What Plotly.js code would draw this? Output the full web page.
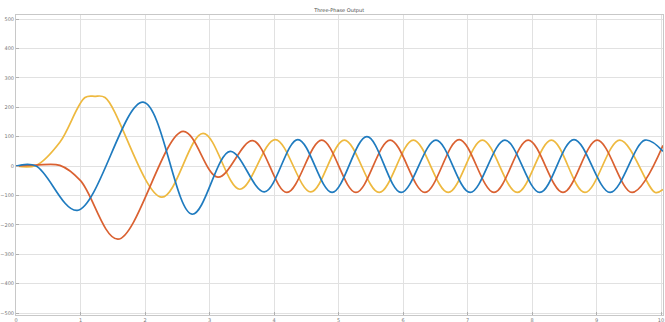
<!DOCTYPE html>
<html>
<head>
<meta charset="utf-8">
<script src="https://cdn.plot.ly/plotly-3.0.1.min.js"></script>
<style>html,body{margin:0;padding:0;background:#fff;}#chart{width:665px;height:322px;}</style>
</head>
<body>
<div id="chart"></div>
<script>
// Series (x in grid units, y in axis units)
const blueX = [0, 0.31, 0.95, 1.97, 2.73, 3.32, 3.85, 4.37, 4.90, 5.44, 5.97, 6.51, 7.04, 7.58, 8.12, 8.65, 9.21, 9.75, 10.03];
const blueY = [0, 0, -151, 217, -164, 50, -88, 90, -90, 100, -90, 88, -90, 88, -90, 90, -90, 88, 50];

const redX = [0, 0.31, 0.68, 1.0, 1.58, 2.59, 3.13, 3.67, 4.20, 4.74, 5.27, 5.80, 6.34, 6.87, 7.41, 7.94, 8.48, 9.01, 9.55, 10.03];
const redY = [0, 3, 2, -50, -249, 118, -38, 86, -90, 88, -90, 88, -90, 90, -90, 88, -90, 88, -90, 70];

const yellowX = [0, 0.31, 0.68, 1.07, 1.22, 1.38, 2.26, 2.90, 3.47, 4.02, 4.57, 5.09, 5.63, 6.16, 6.70, 7.23, 7.77, 8.30, 8.82, 9.36, 9.91, 10.03];
const yellowY = [0, 2, 81, 233, 237, 233, -106, 111, -79, 90, -88, 88, -90, 88, -90, 88, -90, 88, -90, 88, -90, -80];

const titleText = 'Three-Phase Output';
const yTicks = [-500, -400, -300, -200, -100, 0, 100, 200, 300, 400, 500];
const xTicks = [0, 1, 2, 3, 4, 5, 6, 7, 8, 9, 10];

const mk = (x, y, color) => ({
  x: x, y: y, type: 'scatter', mode: 'lines',
  line: {color: color, width: 1.7, shape: 'spline', smoothing: 1},
  hoverinfo: 'skip', showlegend: false
});

const data = [
  mk(yellowX, yellowY, '#EEB93F'),
  mk(redX, redY, '#DA6131'),
  mk(blueX, blueY, '#1F7BBF')
];

const axisCommon = {
  showgrid: true, gridcolor: '#e1e1e1', gridwidth: 1,
  zeroline: false, showline: true, mirror: true,
  linecolor: '#c8c8c8', linewidth: 1,
  ticks: 'inside', ticklen: 3, tickcolor: '#b0b0b0',
  tickfont: {family: 'DejaVu Sans', size: 5, color: '#777'}
};

const layout = {
  width: 665, height: 322,
  margin: {l: 16, r: 2, t: 15, b: 7},
  paper_bgcolor: '#fff', plot_bgcolor: '#fff',
  title: {text: titleText, font: {family: 'DejaVu Sans', size: 5, color: '#444'}, x: 0.51, xanchor: 'center', y: 0.968, yanchor: 'middle'},
  xaxis: Object.assign({}, axisCommon, {range: [0, 10.03], tickvals: xTicks}),
  yaxis: Object.assign({}, axisCommon, {range: [-506.8, 513.6], tickvals: yTicks})
};

Plotly.newPlot('chart', data, layout, {staticPlot: true, displayModeBar: false});
</script>
</body>
</html>
